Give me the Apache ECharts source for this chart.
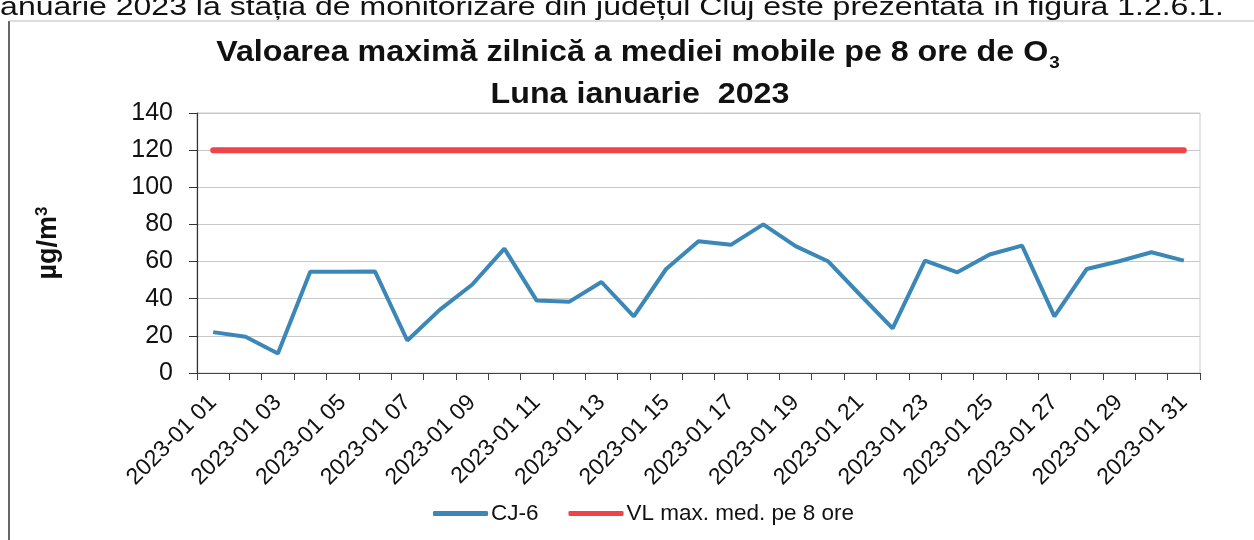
<!DOCTYPE html>
<html lang="ro">
<head>
<meta charset="UTF-8" />
<title>O3 ianuarie 2023</title>
<script src="https://cdn.jsdelivr.net/npm/echarts@6/dist/echarts.min.js"></script>
<style>
  html, body { margin: 0; padding: 0; background: #fff; }
  #chart { width: 1254px; height: 540px; }
</style>
</head>
<body>
<div id="chart"></div>
<script>
// zilele lunii (etichete axa X)
const days = [
  "2023-01 01", "2023-01 02", "2023-01 03", "2023-01 04", "2023-01 05",
  "2023-01 06", "2023-01 07", "2023-01 08", "2023-01 09", "2023-01 10",
  "2023-01 11", "2023-01 12", "2023-01 13", "2023-01 14", "2023-01 15",
  "2023-01 16", "2023-01 17", "2023-01 18", "2023-01 19", "2023-01 20",
  "2023-01 21", "2023-01 22", "2023-01 23", "2023-01 24", "2023-01 25",
  "2023-01 26", "2023-01 27", "2023-01 28", "2023-01 29", "2023-01 30",
  "2023-01 31"
];

// CJ-6, valori (µg/m3)
const cj6 = [
  22, 19.5, 10.5, 54.5, 54.5, 54.7, 17.5, 34, 47.5, 67,
  39, 38.3, 49, 30.5, 56, 71, 69, 80, 68.3, 60.2,
  42, 24, 60.5, 54.2, 63.8, 68.6, 30.5, 56, 60.2, 65,
  60.5
];

// valoarea limita
const limit = [
  120, 120, 120, 120, 120, 120, 120, 120, 120, 120,
  120, 120, 120, 120, 120, 120, 120, 120, 120, 120,
  120, 120, 120, 120, 120, 120, 120, 120, 120, 120,
  120
];

const yTicks = { min: 0, max: 140, interval: 20 };

const font = "'Liberation Sans', Arial, sans-serif";
const blue = "#3b87b8";
const red = "#f0434a";

const chart = echarts.init(document.getElementById("chart"), null, { renderer: "canvas" });

const option = {
  backgroundColor: "#fff",
  animation: false,
  textStyle: { fontFamily: font, color: "#111" },
  legend: {
    left: 428,
    top: 497,
    itemWidth: 55,
    itemHeight: 5,
    itemGap: 30,
    icon: "roundRect",
    textStyle: { fontFamily: font, fontSize: 22.5, color: "#111", padding: [0, 0, 0, -2] },
    data: ["CJ-6", "VL max. med. pe 8 ore"]
  },
  grid: {
    left: 197,
    right: 54,
    top: 113,
    bottom: 167,
    show: true,
    borderColor: "#c8c8c8",
    borderWidth: 1
  },
  xAxis: {
    type: "category",
    data: days,
    boundaryGap: true,
    axisLine: { lineStyle: { color: "#444", width: 1.2 } },
    axisTick: { show: true, interval: 0, length: 7, lineStyle: { color: "#444" } },
    axisLabel: {
      interval: 1,
      rotate: 45,
      margin: 26,
      fontFamily: font,
      fontSize: 23,
      color: "#111"
    },
    splitLine: { show: false }
  },
  yAxis: {
    type: "value",
    min: yTicks.min,
    max: yTicks.max,
    interval: yTicks.interval,
    name: "µg/m{sup|3}",
    nameLocation: "middle",
    nameGap: 134,
    nameRotate: 90,
    nameTextStyle: {
      fontFamily: font,
      fontWeight: "bold",
      fontSize: 27,
      color: "#111",
      rich: {
        sup: {
          fontFamily: font,
          fontWeight: "bold",
          fontSize: 17,
          color: "#111",
          padding: [0, 0, 12, 0]
        }
      }
    },
    axisLine: { show: true, lineStyle: { color: "#333", width: 1.2 } },
    axisTick: { show: true, length: 8, lineStyle: { color: "#333" } },
    axisLabel: { margin: 24, fontFamily: font, fontSize: 25, color: "#111" },
    splitLine: { show: true, lineStyle: { color: "#c8c8c8", width: 1 } }
  },
  series: [
    {
      name: "CJ-6",
      type: "line",
      data: cj6,
      symbol: "none",
      lineStyle: { color: blue, width: 4 },
      itemStyle: { color: blue }
    },
    {
      name: "VL max. med. pe 8 ore",
      type: "line",
      data: limit,
      symbol: "none",
      lineStyle: { color: red, width: 6, cap: "round" },
      itemStyle: { color: red }
    }
  ],
  graphic: [
    // titlul, doua randuri
    {
      type: "text",
      x: 638,
      y: 53,
      scaleX: 1.11,
      style: {
        text: "Valoarea maximă zilnică a mediei mobile pe 8 ore de O{sub|3}",
        align: "center",
        verticalAlign: "middle",
        fontFamily: font,
        fontWeight: "bold",
        fontSize: 29,
        fill: "#111",
        rich: {
          sub: {
            fontFamily: font,
            fontWeight: "bold",
            fontSize: 17,
            lineHeight: 17,
            fill: "#111",
            padding: [16, 0, 0, 1],
            verticalAlign: "top"
          }
        }
      }
    },
    {
      type: "text",
      x: 640,
      y: 95,
      scaleX: 1.11,
      style: {
        text: "Luna ianuarie  2023",
        align: "center",
        verticalAlign: "middle",
        fontFamily: font,
        fontWeight: "bold",
        fontSize: 29,
        fill: "#111"
      }
    },
    // textul paginii, taiat sus
    {
      type: "text",
      x: -7,
      y: 8,
      scaleX: 1.28,
      style: {
        text: "ianuarie 2023 la stația de monitorizare din județul Cluj este prezentată în figura 1.2.6.1.",
        verticalAlign: "middle",
        fontFamily: font,
        fontSize: 25,
        fill: "#111"
      }
    },
    // chenarul figurii
    {
      type: "line",
      shape: { x1: 9, y1: 21, x2: 9, y2: 540 },
      style: { stroke: "#333", lineWidth: 1.5 }
    },
    {
      type: "line",
      shape: { x1: 9, y1: 21, x2: 1254, y2: 21 },
      style: { stroke: "#bbb", lineWidth: 1 }
    }
  ]
};

chart.setOption(option);
</script>
</body>
</html>
